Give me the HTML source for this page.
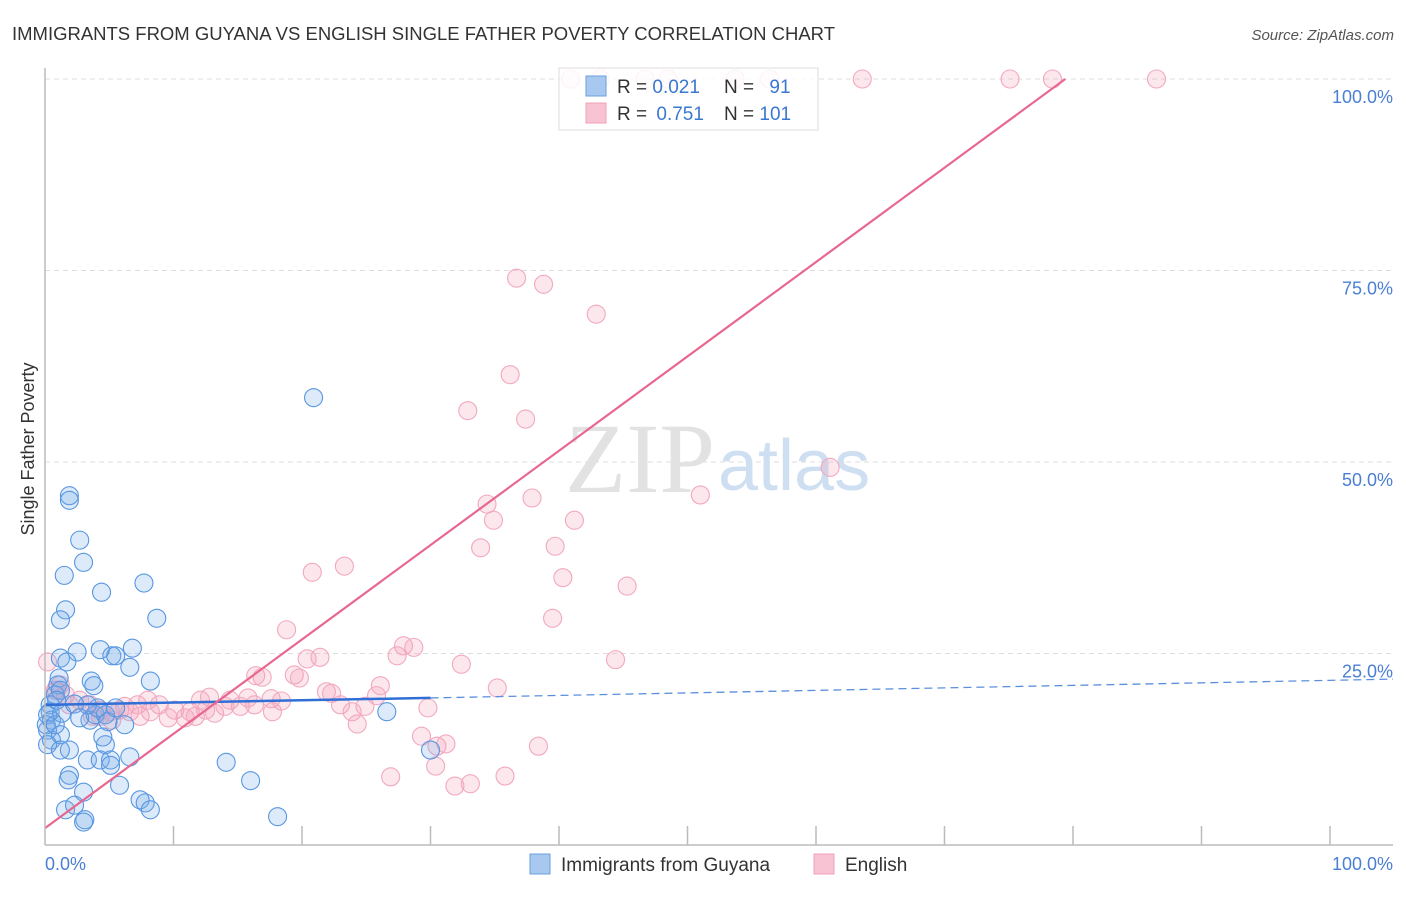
<!DOCTYPE html>
<html><head><meta charset="utf-8"><style>
body{margin:0;background:#fff;font-family:"Liberation Sans",sans-serif;}
</style></head><body>
<svg width="1406" height="892" viewBox="0 0 1406 892" xmlns="http://www.w3.org/2000/svg">
<text x="12" y="40" font-size="18" fill="#333" textLength="823" lengthAdjust="spacingAndGlyphs">IMMIGRANTS FROM GUYANA VS ENGLISH SINGLE FATHER POVERTY CORRELATION CHART</text>
<text x="1394" y="40" font-size="15" fill="#555" font-style="italic" text-anchor="end">Source: ZipAtlas.com</text>
<g id="grid"></g>
<text x="715" y="492" font-size="100" font-family="Liberation Serif,serif" fill="#e2e2e2" text-anchor="end">ZIP</text>
<text x="718" y="490" font-size="72" fill="#cfdff2">atlas</text>
<g id="pts"></g>
<g id="lines"></g>
<g id="axes"></g>
<text x="40" y="455" font-size="18" fill="#333" transform="rotate(-90 34 455)" text-anchor="middle">Single Father Poverty</text>
<text x="45" y="870" font-size="18" fill="#4a7fd4">0.0%</text>
<text x="1393" y="870" font-size="18" fill="#4a7fd4" text-anchor="end">100.0%</text>
<g>
<rect x="559" y="68" width="259" height="62" fill="#fff" fill-opacity="0.85" stroke="#ddd"/>
<rect x="586" y="76" width="20" height="20" fill="#a8c8f0" stroke="#6a9fe0"/>
<rect x="586" y="103" width="20" height="20" fill="#f8c4d4" stroke="#f0a0b8"/>
<text x="617" y="93" font-size="19" fill="#333">R = <tspan fill="#3a78d0">0.021</tspan></text>
<text x="724" y="93" font-size="19" fill="#333">N = <tspan fill="#3a78d0" dx="10">91</tspan></text>
<text x="617" y="120" font-size="19" fill="#333">R = <tspan fill="#3a78d0" dx="4">0.751</tspan></text>
<text x="724" y="120" font-size="19" fill="#333">N = <tspan fill="#3a78d0">101</tspan></text>
</g>
<g>
<rect x="530" y="854" width="20" height="20" fill="#a8c8f0" stroke="#6a9fe0"/>
<text x="561" y="871" font-size="19" fill="#333">Immigrants from Guyana</text>
<rect x="814" y="854" width="20" height="20" fill="#f8c4d4" stroke="#f0a0b8"/>
<text x="845" y="871" font-size="19" fill="#333">English</text>
</g>
</svg>
<script>
const yTicks=[25,50,75,100];
const yTickLabels=["25.0%","50.0%","75.0%","100.0%"];
const xTicks=[0,10,20,30,40,50,60,70,80,90,100];
const blueX=[1.9,1.9,2.7,3.0,1.5,4.4,7.7,8.7,1.6,1.2,20.9,2.5,1.2,1.7,5.2,5.5,4.3,6.8,6.6,3.6,3.8,8.2,1.1,1.0,0.8,0.4,0.4,0.5,0.2,0.5,1.2,3.5,3.9,4.7,6.2,1.9,3.3,4.3,5.1,6.6,4.7,1.8,1.9,5.1,5.8,14.1,16.0,1.6,3.0,2.3,3.1,3.0,7.4,7.8,8.2,18.1,26.6,30.0,0.2,1.2,0.9,0.2,0.1,0.8,1.3,4.1,4.9,5.5,3.3,2.3,1.2,4.5,2.7];
const blueY=[45.6,45.0,39.8,36.9,35.2,33.0,34.2,29.6,30.7,29.4,58.4,25.2,24.4,23.9,24.7,24.7,25.5,25.7,23.2,21.4,20.8,21.4,21.8,20.9,19.6,18.3,17.4,16.3,15.0,13.7,14.4,16.3,17.0,17.0,15.7,12.4,11.1,11.1,11.1,11.5,13.1,8.5,9.1,10.4,7.8,10.8,8.4,4.6,6.9,5.2,3.3,3.0,5.9,5.5,4.6,3.7,17.4,12.4,13.1,20.2,18.9,17.0,15.7,15.7,17.2,17.9,16.1,17.9,18.3,18.4,12.4,14.1,16.6];
const pinkX=[40.9,43.2,46.7,48.5,53.7,56.4,63.6,75.1,78.4,86.5,36.7,38.8,42.9,36.2,32.9,37.4,61.1,51.0,37.9,34.4,34.9,41.2,33.9,39.7,20.8,23.3,40.3,45.3,39.5,18.8,44.4,32.4,27.9,28.7,27.4,21.4,20.4,16.4,16.9,19.4,19.8,35.2,26.1,25.8,21.9,22.3,15.8,12.8,14.4,17.6,18.4,23.0,24.9,29.8,23.9,24.3,17.7,15.2,13.2,12.1,11.3,10.1,9.6,8.9,8.2,7.4,6.6,5.8,5.1,4.3,3.5,2.7,1.9,1.6,0.8,1.2,0.2,0.9,29.3,30.5,31.2,38.4,30.4,26.9,35.8,31.9,33.1,10.9,11.7,12.5,14.0,8.0,7.2,6.2,4.3,3.7,5.2,16.3];
const pinkY=[100,100,100,100,100,100,100,100,100,100,74.0,73.2,69.3,61.4,56.7,55.6,49.3,45.7,45.3,44.5,42.4,42.4,38.8,39.0,35.6,36.4,34.9,33.8,29.6,28.1,24.2,23.6,26.0,25.8,24.7,24.5,24.3,22.1,21.9,22.2,21.8,20.5,20.8,19.5,20.0,19.8,19.2,19.3,18.9,19.1,18.8,18.3,18.1,17.9,17.4,15.8,17.4,18.1,17.2,18.9,17.4,17.6,16.6,18.3,17.4,16.8,17.4,17.6,17.4,17.6,18.3,18.9,18.3,19.6,20.2,20.9,23.9,20.2,14.2,12.9,13.2,12.9,10.3,8.9,9.0,7.7,8.0,16.6,16.8,17.6,18.1,18.9,18.3,18.1,16.8,16.8,16.3,18.3];
const blueTrend=[0,18.3,30,19.2,100,21.5];
const pinkTrend=[0,2.2,79.4,100];
const X0=45,X1=1330,Y0=845,Y1=79;
const sx=v=>X0+(X1-X0)*v/100, sy=v=>Y0-(Y0-Y1)*v/100;
const NS="http://www.w3.org/2000/svg";
function mk(t,a,p){const e=document.createElementNS(NS,t);for(const k in a)e.setAttribute(k,a[k]);p.appendChild(e);return e;}
const grid=document.getElementById('grid');
yTicks.forEach((t,i)=>{
 const l=mk('line',{x1:X0,x2:1393,y1:sy(t),y2:sy(t),stroke:'#ddd','stroke-dasharray':'5,4'},grid);
 
 
 const tx=mk('text',{x:1393,y:sy(t)+24,'font-size':18,fill:'#4a7fd4','text-anchor':'end'},grid);
 tx.textContent=yTickLabels[i];
 
 
});
const ax=document.getElementById('axes');
mk('line',{x1:X0,x2:X0,y1:68,y2:Y0,stroke:'#bbb','stroke-width':1.5},ax);
mk('line',{x1:X0,x2:1393,y1:Y0,y2:Y0,stroke:'#bbb','stroke-width':1.5},ax);
xTicks.forEach(t=>{if(t===0)return;const l=mk('line',{x1:sx(t),x2:sx(t),y1:826,y2:Y0,stroke:'#bbb','stroke-width':1.5},ax);
 
 });
const pts=document.getElementById('pts');
pinkX.forEach((x,i)=>{const c=mk('circle',{cx:sx(x),cy:sy(pinkY[i]),r:9,fill:'rgba(244,160,185,0.25)',stroke:'#f2a8bf','stroke-width':1.1},pts);
 
 });
blueX.forEach((x,i)=>{const c=mk('circle',{cx:sx(x),cy:sy(blueY[i]),r:9,fill:'rgba(120,170,232,0.25)',stroke:'#5796e2','stroke-width':1.1},pts);
 
 });
const ln=document.getElementById('lines');
const b1=mk('line',{x1:sx(blueTrend[0]),y1:sy(blueTrend[1]),x2:sx(blueTrend[2]),y2:sy(blueTrend[3]),stroke:'#2f6fd6','stroke-width':2.5},ln);


const b2=mk('line',{x1:sx(blueTrend[2]),y1:sy(blueTrend[3]),x2:1393,y2:sy(blueTrend[1]+(blueTrend[5]-blueTrend[1])*(1393-X0)/(X1-X0)),stroke:'#5b8fdd','stroke-width':1.3,'stroke-dasharray':'8,5'},ln);


const p1=mk('line',{x1:sx(pinkTrend[0]),y1:sy(pinkTrend[1]),x2:sx(pinkTrend[2]),y2:sy(pinkTrend[3]),stroke:'#e8678f','stroke-width':2.2},ln);


</script>
</body></html>
